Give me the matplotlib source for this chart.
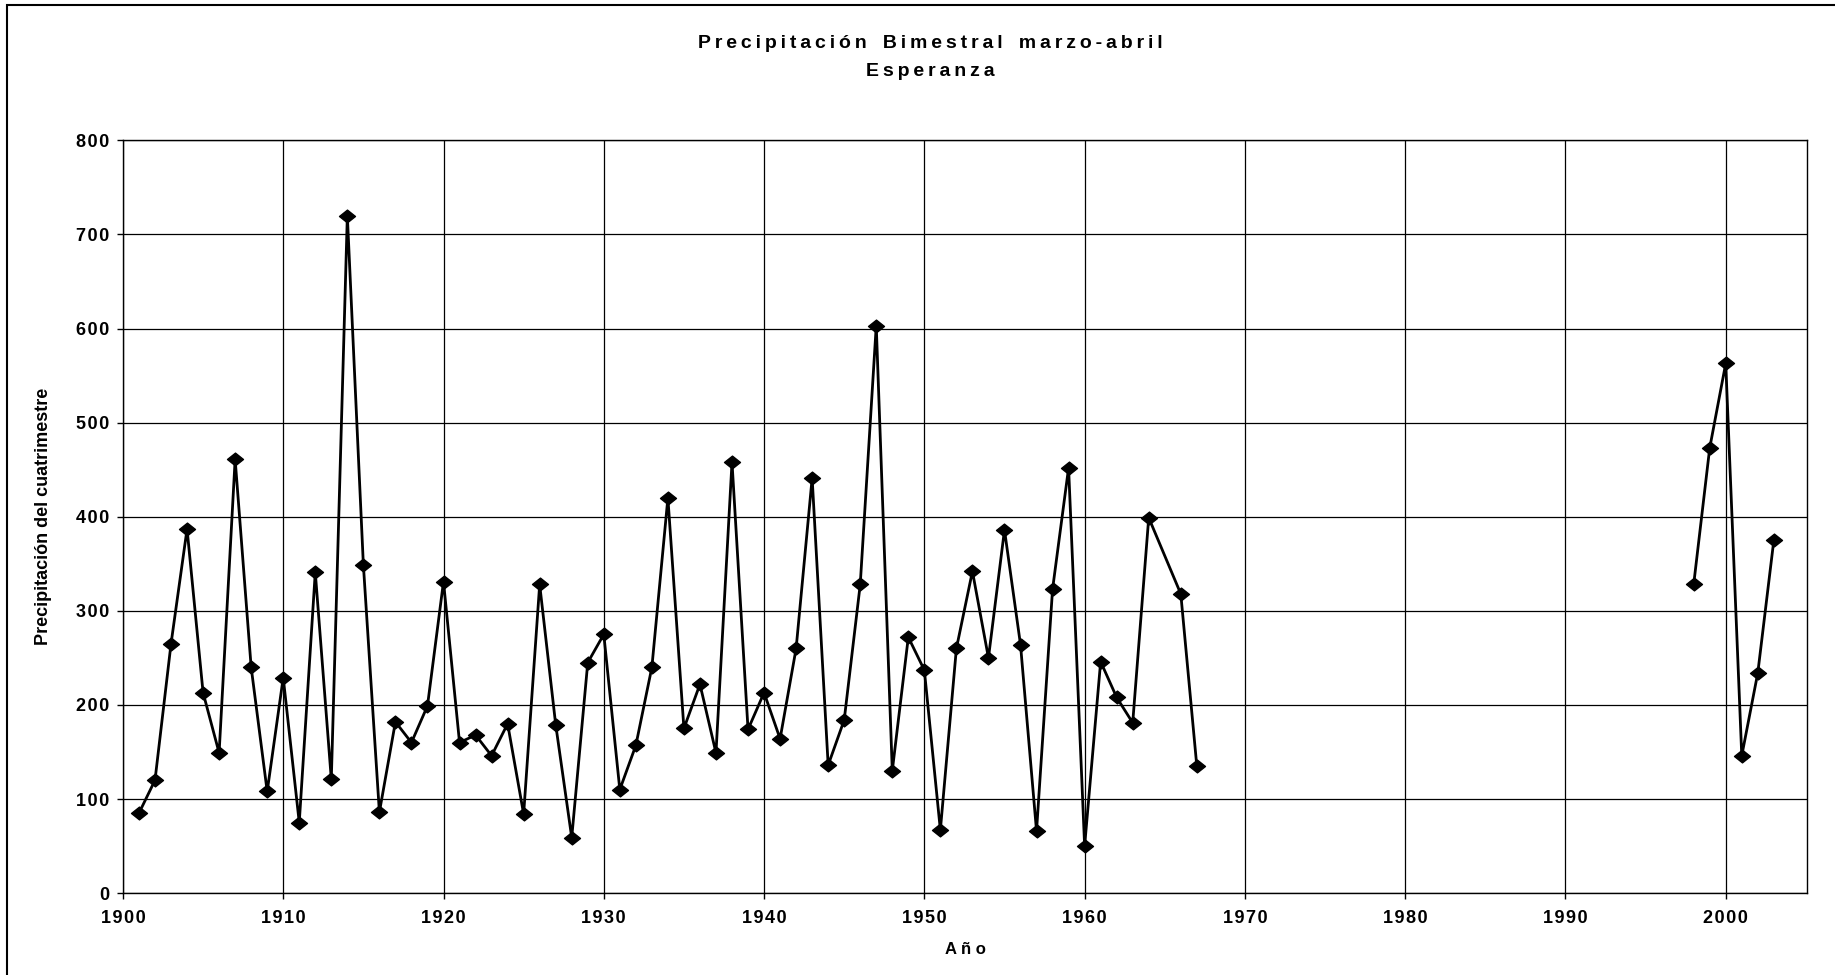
import numpy as np
import matplotlib
matplotlib.use("Agg")
import matplotlib.pyplot as plt
from matplotlib.patches import Rectangle
from matplotlib.path import Path

# años y precipitación (marzo-abril)
years1 = [1901, 1902, 1903, 1904, 1905, 1906, 1907, 1908, 1909, 1910,
          1911, 1912, 1913, 1914, 1915, 1916, 1917, 1918, 1919, 1920,
          1921, 1922, 1923, 1924, 1925, 1926, 1927, 1928, 1929, 1930,
          1931, 1932, 1933, 1934, 1935, 1936, 1937, 1938, 1939, 1940,
          1941, 1942, 1943, 1944, 1945, 1946, 1947, 1948, 1949, 1950,
          1951, 1952, 1953, 1954, 1955, 1956, 1957, 1958, 1959, 1960,
          1961, 1962, 1963, 1964, 1966, 1967]
precip1 = [85, 120, 265, 387, 213, 149, 461, 240, 108, 229,
           75, 341, 121, 720, 349, 86, 182, 160, 199, 331,
           160, 168, 146, 180, 84, 328, 179, 59, 245, 275,
           110, 157, 240, 420, 175, 222, 149, 458, 174, 213,
           164, 260, 441, 136, 184, 328, 603, 130, 272, 237,
           67, 260, 342, 250, 386, 264, 66, 323, 452, 50,
           246, 208, 181, 399, 318, 135]

years2 = [1998, 1999, 2000, 2001, 2002, 2003]
precip2 = [328, 473, 563, 146, 234, 375]

xticks = np.arange(1900, 2001, 10)
yticks = np.arange(0, 801, 100)


def spaced(s, sep=" "):
    # imita el espaciado de letras del original
    return sep.join(s)


plt.rcParams['font.family'] = ['Liberation Sans', 'DejaVu Sans']

fig = plt.figure(figsize=(18.35, 9.75), dpi=100)
ax = fig.add_axes([0.067, 0.084, 0.918, 0.772])

# rombo algo achatado, como en Excel
diamond = Path([(-1, 0), (0, 0.8), (1, 0), (0, -0.8), (-1, 0)],
               [Path.MOVETO, Path.LINETO, Path.LINETO, Path.LINETO, Path.CLOSEPOLY])

for xs, ys in [(years1, precip1), (years2, precip2)]:
    ax.plot(xs, ys, color='black', linewidth=2, marker=diamond, markersize=11.5,
            markerfacecolor='black', markeredgecolor='black')

hair = "\u200a"
thin = "\u2009"
ax.set_xlim(1900, 2005.1)
ax.set_ylim(0, 800)
ax.set_xticks(xticks)
ax.set_xticklabels([spaced(str(t), hair) for t in xticks])
ax.set_yticks(yticks)
ax.set_yticklabels([spaced(str(t), hair) for t in yticks])
ax.grid(True, color='black', linewidth=0.9)
ax.set_axisbelow(True)
for s in ax.spines.values():
    s.set_color('black')
    s.set_linewidth(1.0)
ax.tick_params(axis='x', direction='out', length=4, width=1, labelsize=13, pad=8)
ax.tick_params(axis='y', direction='out', length=4, width=1, labelsize=13, pad=6)
for lab in ax.get_xticklabels() + ax.get_yticklabels():
    lab.set_fontweight('bold')

ax.set_xlabel(spaced("Año"), fontsize=12, fontweight='bold', labelpad=11)
ax.set_ylabel("Precipitación del cuatrimestre", fontsize=13, fontweight='bold')
ax.yaxis.set_label_coords(-0.042, 0.5)

title1 = "   ".join(spaced(w, thin) for w in ["Precipitación", "Bimestral", "marzo-abril"])
fig.text(0.507, 0.955, title1, ha='center', va='center', fontsize=14, fontweight='bold')
fig.text(0.507, 0.927, spaced("Esperanza", thin), ha='center', va='center',
         fontsize=14, fontweight='bold')

# borde del área del gráfico
fig.patches.append(Rectangle((0.004, -0.01), 1.2, 1.005, transform=fig.transFigure,
                             fill=False, edgecolor='black', linewidth=1.5))

fig.savefig('out.png', dpi=100)
